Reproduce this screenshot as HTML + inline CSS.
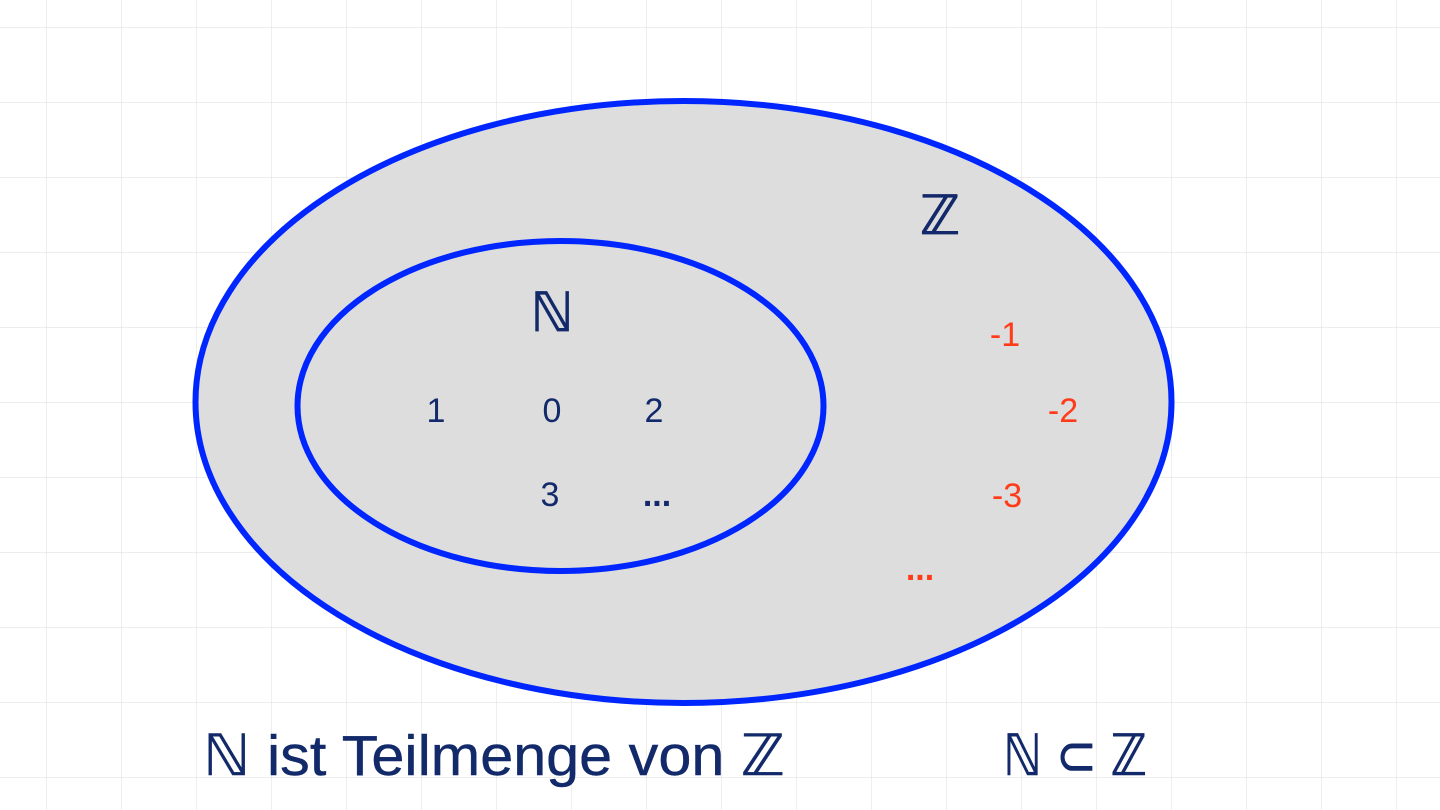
<!DOCTYPE html>
<html><head><meta charset="utf-8"><style>
html,body{margin:0;padding:0;background:#fff;}
svg{display:block;}
text{font-family:"Liberation Sans","DejaVu Sans",sans-serif;}
</style></head><body>
<svg width="1440" height="810" viewBox="0 0 1440 810" xmlns="http://www.w3.org/2000/svg">
<defs>
<pattern id="g" x="-28" y="-47" width="75" height="75" patternUnits="userSpaceOnUse">
<path d="M75 0V75M0 75H75" stroke="#e2e2e2" stroke-width="1.2" fill="none"/>
</pattern>
</defs>
<rect width="1440" height="810" fill="#fff"/>
<rect width="1440" height="810" fill="url(#g)"/>
<ellipse cx="683.5" cy="402" rx="488" ry="301" fill="#dddddd" stroke="#0026ff" stroke-width="6"/>
<ellipse cx="560.5" cy="406" rx="263" ry="165" fill="#dddddd" stroke="#0026ff" stroke-width="6"/>
<g fill="#12296a">
<text x="552" y="331" font-size="54" text-anchor="middle" stroke="#12296a" stroke-width="0.8">ℕ</text>
<text x="940" y="234" font-size="54" text-anchor="middle" stroke="#12296a" stroke-width="0.8">ℤ</text>
<text x="436" y="422" font-size="34" text-anchor="middle">1</text>
<text x="552" y="422" font-size="34" text-anchor="middle">0</text>
<text x="654" y="422" font-size="34" text-anchor="middle">2</text>
<text x="550" y="506" font-size="34" text-anchor="middle">3</text>
<text x="657" y="506" font-size="34" text-anchor="middle" font-weight="bold">...</text>
<text x="203" y="775" font-size="57" textLength="582" lengthAdjust="spacingAndGlyphs" stroke="#12296a" stroke-width="0.4">ℕ ist Teilmenge von ℤ</text>
<text x="1003" y="775" font-size="57" textLength="144" lengthAdjust="spacingAndGlyphs" stroke="#12296a" stroke-width="0.6">ℕ ⊂ ℤ</text>
</g>
<g fill="#ff3b1a" font-size="34">
<text x="1005" y="346" text-anchor="middle">-1</text>
<text x="1063" y="422" text-anchor="middle">-2</text>
<text x="1007" y="507" text-anchor="middle">-3</text>
<text x="920" y="580" text-anchor="middle" font-weight="bold">...</text>
</g>
</svg>
</body></html>
